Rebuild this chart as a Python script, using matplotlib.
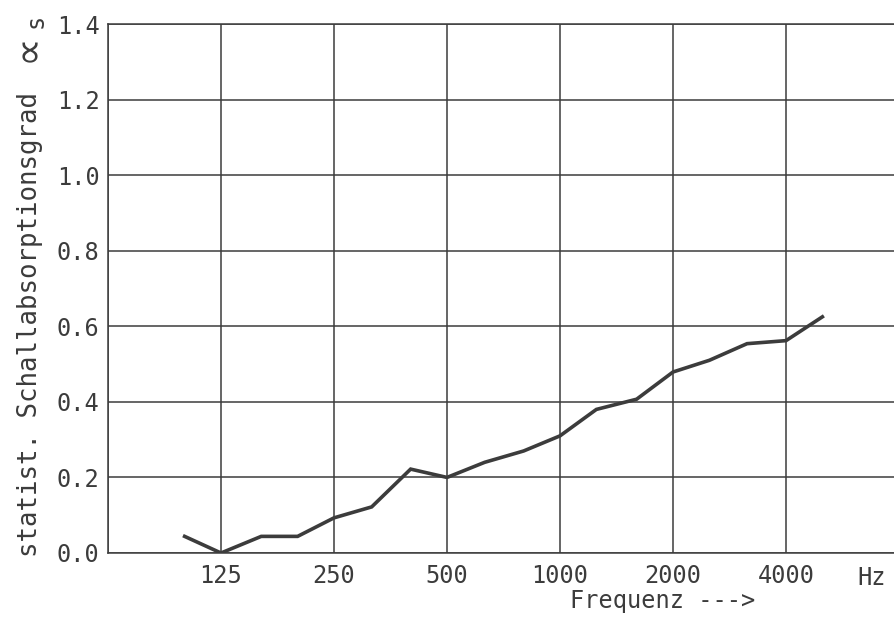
import matplotlib
matplotlib.use("Agg")
import matplotlib.pyplot as plt

# third-octave band centres and absorption coefficient
freq = [100, 125, 160, 200, 250, 315, 400, 500, 630, 800,
        1000, 1250, 1600, 2000, 2500, 3150, 4000, 5000]
alpha = [0.044, 0.0, 0.044, 0.044, 0.093, 0.122, 0.222, 0.20, 0.24, 0.27,
         0.31, 0.38, 0.407, 0.479, 0.51, 0.554, 0.562, 0.625]

xtick_freq = [125, 250, 500, 1000, 2000, 4000]
xtick_labels = ["125", "250", "500", "1000", "2000", "4000"]
ytick_vals = [0.0, 0.2, 0.4, 0.6, 0.8, 1.0, 1.2, 1.4]

ink = "#3c3c3c"
fs = 17
W, H = 895, 619
plt.rcParams["font.family"] = ["DejaVu Sans Mono", "DejaVu Sans"]


def px(x, y):
    # pixel position (from top-left) -> figure fraction
    return x / W, 1 - y / H


fig = plt.figure(figsize=(W / 100, H / 100), dpi=100)
ax = fig.add_axes([108 / W, 1 - 553 / H, 791 / W, 529 / H])

ax.set_xscale("log", base=2)
ax.set_xlim(62.5, 8000)
ax.set_ylim(0, 1.4)

for f in xtick_freq + [62.5, 8000]:
    ax.axvline(f, color=ink, lw=1.1, zorder=1)
for v in ytick_vals:
    ax.axhline(v, color=ink, lw=1.1, zorder=1)

ax.plot(freq, alpha, color=ink, lw=2.6, solid_joinstyle="miter", zorder=3)

ax.set_xticks(xtick_freq)
ax.set_xticklabels(xtick_labels)
ax.xaxis.set_minor_locator(matplotlib.ticker.NullLocator())
ax.set_yticks(ytick_vals)
ax.set_yticklabels([f"{v:.1f}" for v in ytick_vals])
ax.tick_params(length=0, labelsize=fs, colors=ink)
ax.tick_params(axis="x", pad=8)
ax.tick_params(axis="y", pad=6)
for s in ax.spines.values():
    s.set_color(ink)
    s.set_linewidth(1.1)

fig.text(*px(872, 578), "Hz", fontsize=fs, color=ink,
         ha="center", va="center")
fig.text(*px(663, 601), "Frequenz --->", fontsize=fs, color=ink,
         ha="center", va="center")

# y label: main text, alpha-like sign and subscript s, stacked upwards
fig.text(*px(37, 557), "statist. Schallabsorptionsgrad", fontsize=18.5,
         color=ink, rotation=90, rotation_mode="anchor",
         ha="left", va="baseline")
fig.text(*px(39, 62), "∝", fontsize=29, color=ink, rotation=90,
         rotation_mode="anchor", ha="left", va="baseline",
         family="DejaVu Sans")
fig.text(*px(43, 28), "s", fontsize=17, color=ink, rotation=90,
         rotation_mode="anchor", ha="left", va="baseline")

fig.savefig("out.png", dpi=100, facecolor="white")
